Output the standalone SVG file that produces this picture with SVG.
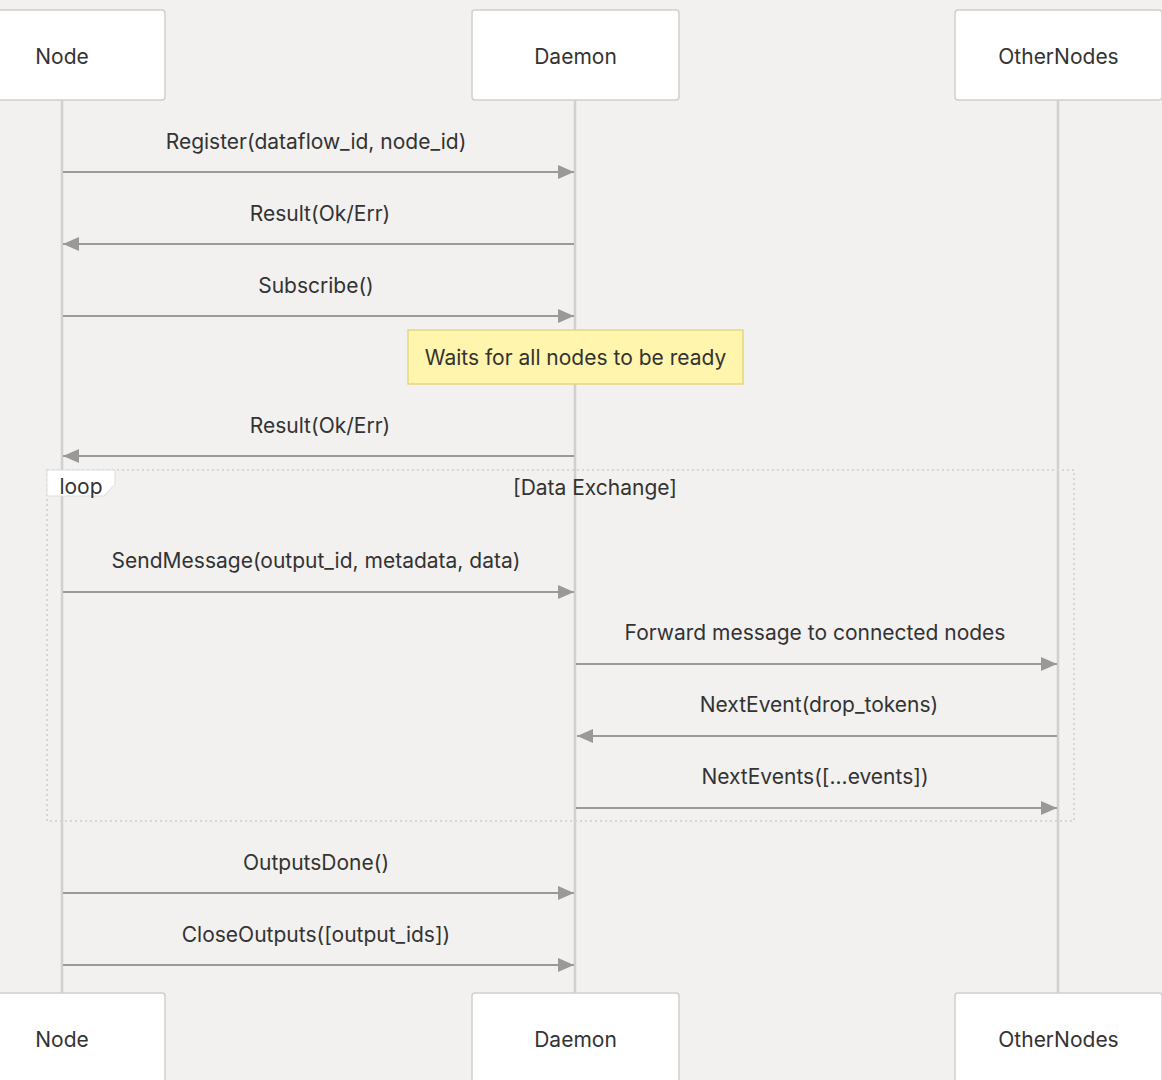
<svg xmlns="http://www.w3.org/2000/svg" width="1162" height="1080" viewBox="0 0 1162 1080">
<style>
.bg{fill:#f2f1ef}
.actor{fill:#ffffff;stroke:#cfcfcf;stroke-width:1.5}
.life{stroke:#d0d0d0;stroke-width:2.5}
.msg{stroke:#9a9a9a;stroke-width:2;fill:none}
text{font-family:Inter,"Liberation Sans",sans-serif;font-size:21px;fill:#333333}
.c{text-anchor:middle}
.note{fill:#fff5ad;stroke:#e6d77d;stroke-width:1.5}
.loop{fill:none;stroke:#d6d6d6;stroke-width:2;stroke-dasharray:2 3}
.looplabel{fill:#ffffff;stroke:#dddddd;stroke-width:1}
</style>
<defs>
<marker id="ah" viewBox="0 0 16 14" refX="16" refY="7" markerWidth="16" markerHeight="14" markerUnits="userSpaceOnUse" orient="auto">
<path d="M0,0 L16,7 L0,14 Z" fill="#999999"/>
</marker>
</defs>
<rect class="bg" x="0" y="0" width="1162" height="1080"/>
<g id="lifelines">
<line class="life" x1="62" y1="100" x2="62" y2="993"/>
<line class="life" x1="575" y1="100" x2="575" y2="993"/>
<line class="life" x1="1058" y1="100" x2="1058" y2="993"/>
</g>
<g id="loop">
<rect class="loop" x="47" y="470" width="1027" height="351"/>
<path class="looplabel" d="M47,470 H115 V484 L104,496 H47 Z"/>
<text x="81" y="494" class="c">loop</text>
<text x="595" y="495" class="c">[Data Exchange]</text>
</g>
<g id="node-top"><rect class="actor" x="-42" y="10" width="207" height="90" rx="3"/><text x="62" y="64" class="c">Node</text></g>
<g id="daemon-top"><rect class="actor" x="472" y="10" width="207" height="90" rx="3"/><text x="575.5" y="64" class="c">Daemon</text></g>
<g id="others-top"><rect class="actor" x="955" y="10" width="207" height="90" rx="3"/><text x="1058.5" y="64" class="c">OtherNodes</text></g>
<g id="node-bottom"><rect class="actor" x="-42" y="993" width="207" height="90" rx="3"/><text x="62" y="1047" class="c">Node</text></g>
<g id="daemon-bottom"><rect class="actor" x="472" y="993" width="207" height="90" rx="3"/><text x="575.5" y="1047" class="c">Daemon</text></g>
<g id="others-bottom"><rect class="actor" x="955" y="993" width="207" height="90" rx="3"/><text x="1058.5" y="1047" class="c">OtherNodes</text></g>
<g id="note"><rect class="note" x="408" y="330" width="335" height="54"/><text x="575.5" y="365" class="c">Waits for all nodes to be ready</text></g>
<g id="connectors">
<line class="msg" x1="63" y1="172" x2="574" y2="172" marker-end="url(#ah)"/>
<text x="316" y="149" class="c">Register(dataflow_id, node_id)</text>
<line class="msg" x1="574" y1="244" x2="63" y2="244" marker-end="url(#ah)"/>
<text x="320" y="221" class="c">Result(Ok/Err)</text>
<line class="msg" x1="63" y1="316" x2="574" y2="316" marker-end="url(#ah)"/>
<text x="316" y="293" class="c">Subscribe()</text>
<line class="msg" x1="574" y1="456" x2="63" y2="456" marker-end="url(#ah)"/>
<text x="320" y="433" class="c">Result(Ok/Err)</text>
<line class="msg" x1="63" y1="592" x2="574" y2="592" marker-end="url(#ah)"/>
<text x="316" y="568" class="c">SendMessage(output_id, metadata, data)</text>
<line class="msg" x1="576" y1="664" x2="1057" y2="664" marker-end="url(#ah)"/>
<text x="815" y="640" class="c">Forward message to connected nodes</text>
<line class="msg" x1="1057" y1="736" x2="577" y2="736" marker-end="url(#ah)"/>
<text x="819" y="712" class="c">NextEvent(drop_tokens)</text>
<line class="msg" x1="576" y1="808" x2="1057" y2="808" marker-end="url(#ah)"/>
<text x="815" y="784" class="c">NextEvents([...events])</text>
<line class="msg" x1="63" y1="893" x2="574" y2="893" marker-end="url(#ah)"/>
<text x="316" y="870" class="c">OutputsDone()</text>
<line class="msg" x1="63" y1="965" x2="574" y2="965" marker-end="url(#ah)"/>
<text x="316" y="942" class="c">CloseOutputs([output_ids])</text>
</g>
</svg>
